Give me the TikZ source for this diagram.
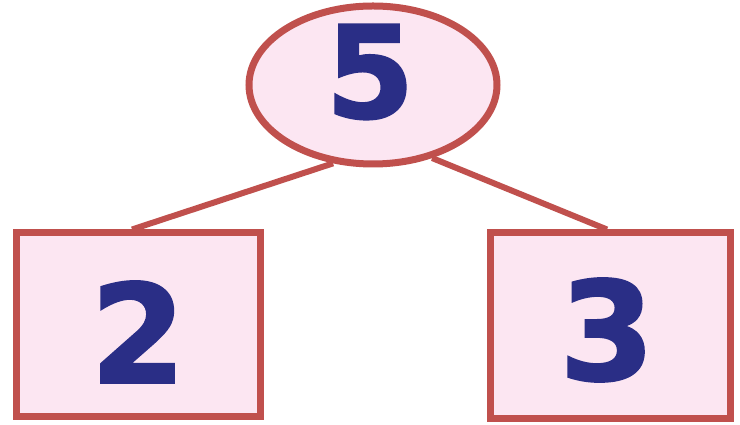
\documentclass[tikz,border=0pt]{standalone}
\usepackage{fontspec}
\setmainfont{DejaVu Sans}
\newfontfamily\digitfont[BoldFeatures={FakeBold=1.6}]{DejaVu Sans}
\usetikzlibrary{shapes.geometric,calc}
\definecolor{edgered}{HTML}{C0504D}
\definecolor{fillpink}{HTML}{FCE6F2}
\definecolor{digitblue}{HTML}{2A2E86}
\tikzset{
  shapeline/.style={draw=edgered, line width=7pt, fill=fillpink},
  roundnode/.style={shapeline, ellipse, minimum width=248pt, minimum height=158pt, inner sep=0pt},
  boxnode/.style={shapeline, rectangle, inner sep=0pt},
  digit/.style={text=digitblue, font=\digitfont\bfseries\fontsize{137}{137}\selectfont, inner sep=0pt},
  link/.style={draw=edgered, line width=6pt}
}
\begin{document}
\begin{tikzpicture}[x=1pt,y=1pt]
\useasboundingbox (0,0) rectangle (740,425);
\node[roundnode] (top) at (373,340) {};
\node[boxnode, minimum width=244pt, minimum height=184pt] (left) at (138,100) {};
\node[boxnode, minimum width=240pt, minimum height=186pt] (right) at (610,99) {};
\draw[link] (top.243) -- ($(left.north)+(-6,0)$);
\draw[link] (top.309) -- ($(right.north)+(-3,0)$);
\node[digit, font=\digitfont\bfseries\fontsize{128}{128}\selectfont] (five) at (370,353) {5};
\node[digit] (two) at (138,93) {2};
\node[digit] (three) at (607,95) {3};
\end{tikzpicture}
\end{document}
